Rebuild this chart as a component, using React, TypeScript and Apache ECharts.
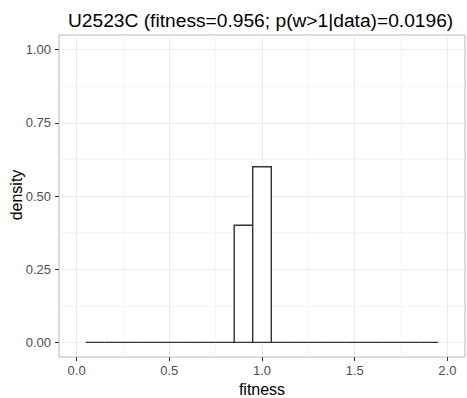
import React, { useEffect, useRef } from "react";
import * as echarts from "echarts";

// Histogram bins: left edge, right edge and density of each bin
const binLeft = [0.05, 0.15, 0.25, 0.35, 0.45, 0.55, 0.65, 0.75, 0.85, 0.95, 1.05, 1.15, 1.25, 1.35, 1.45, 1.55, 1.65, 1.75, 1.85];
const binRight = [0.15, 0.25, 0.35, 0.45, 0.55, 0.65, 0.75, 0.85, 0.95, 1.05, 1.15, 1.25, 1.35, 1.45, 1.55, 1.65, 1.75, 1.85, 1.95];
const density = [0, 0, 0, 0, 0, 0, 0, 0, 0.4, 0.6, 0, 0, 0, 0, 0, 0, 0, 0, 0];

// Axis ticks
const xTicks = [0, 0.5, 1, 1.5, 2];
const xMinor = [0.25, 0.75, 1.25, 1.75];
const yTicks = [0, 0.25, 0.5, 0.75, 1];
const yMinor = [0.125, 0.375, 0.625, 0.875];

const titleText = "U2523C (fitness=0.956; p(w>1|data)=0.0196)";
const xName = "fitness";
const yName = "density";

const FONT = "'Liberation Sans', Arial, Helvetica, sans-serif";

export default function App() {
  const ref = useRef<HTMLDivElement>(null);

  useEffect(() => {
    document.body.style.margin = "0";
    const chart = echarts.init(ref.current!, null, { renderer: "svg" });

    const data = binLeft.map((l, i) => [l, binRight[i], density[i]]);
    const X_MIN = -0.095;
    const X_MAX = 2.095;
    const Y_MIN = -0.05;
    const Y_MAX = 1.05;

    chart.setOption({
      animation: false,
      backgroundColor: "#ffffff",
      textStyle: { fontFamily: FONT },
      title: {
        text: titleText,
        left: 63,
        top: 6,
        textStyle: { fontFamily: FONT, fontSize: 19.2, fontWeight: "normal", color: "#000" },
      },
      grid: {
        left: 59,
        right: 2,
        top: 35,
        bottom: 41,
        show: true,
        borderColor: "#b8b8b8",
        borderWidth: 1,
        backgroundColor: "transparent",
      },
      xAxis: [
        {
          type: "value",
          min: X_MIN,
          max: X_MAX,
          position: "bottom",
          axisLine: { show: false, onZero: false },
          axisTick: { show: true, customValues: xTicks, length: 4, lineStyle: { color: "#333", width: 1 } },
          axisLabel: {
            show: true,
            customValues: xTicks,
            formatter: (v: number) => v.toFixed(1),
            color: "#4d4d4d",
            fontSize: 13,
            margin: 7,
            fontFamily: FONT,
          },
          splitLine: { show: true, lineStyle: { color: "#ebebeb", width: 1 } },
        },
        {
          type: "value",
          min: X_MIN,
          max: X_MAX,
          position: "bottom",
          axisLine: { show: false, onZero: false },
          axisTick: { show: false, customValues: xMinor },
          axisLabel: { show: false, customValues: xMinor },
          splitLine: { show: true, lineStyle: { color: "#f5f5f5", width: 1 } },
        },
      ],
      yAxis: [
        {
          type: "value",
          min: Y_MIN,
          max: Y_MAX,
          position: "left",
          axisLine: { show: false, onZero: false },
          axisTick: { show: true, customValues: yTicks, length: 4, lineStyle: { color: "#333", width: 1 } },
          axisLabel: {
            show: true,
            customValues: yTicks,
            formatter: (v: number) => v.toFixed(2),
            color: "#4d4d4d",
            fontSize: 13,
            margin: 8,
            fontFamily: FONT,
          },
          splitLine: { show: true, lineStyle: { color: "#ebebeb", width: 1 } },
        },
        {
          type: "value",
          min: Y_MIN,
          max: Y_MAX,
          position: "left",
          axisLine: { show: false, onZero: false },
          axisTick: { show: false, customValues: yMinor },
          axisLabel: { show: false, customValues: yMinor },
          splitLine: { show: true, lineStyle: { color: "#f5f5f5", width: 1 } },
        },
      ],
      graphic: [
        {
          type: "text",
          x: 262,
          y: 389,
          style: {
            text: xName,
            fontSize: 16,
            fontFamily: FONT,
            fill: "#000",
            textAlign: "center",
            textVerticalAlign: "middle",
          },
        },
        {
          type: "text",
          x: 16,
          y: 195,
          rotation: Math.PI / 2,
          style: {
            text: yName,
            fontSize: 16,
            fontFamily: FONT,
            fill: "#000",
            textAlign: "center",
            textVerticalAlign: "middle",
          },
        },
      ],
      series: [
        {
          type: "custom",
          xAxisIndex: 0,
          yAxisIndex: 0,
          encode: { x: [0, 1], y: 2 },
          data,
          renderItem: (params: any, api: any) => {
            const x0 = api.value(0);
            const x1 = api.value(1);
            const h = api.value(2);
            const p0 = api.coord([x0, 0]);
            const p1 = api.coord([x1, h]);
            return {
              type: "polygon",
              shape: {
                points: [
                  [p0[0], p0[1]],
                  [p0[0], p1[1]],
                  [p1[0], p1[1]],
                  [p1[0], p0[1]],
                ],
              },
              style: { fill: "#ffffff", stroke: "#333333", lineWidth: 1.4 },
            };
          },
        },
      ],
    });

    return () => chart.dispose();
  }, []);

  return <div ref={ref} style={{ width: 467, height: 398 }} />;
}
